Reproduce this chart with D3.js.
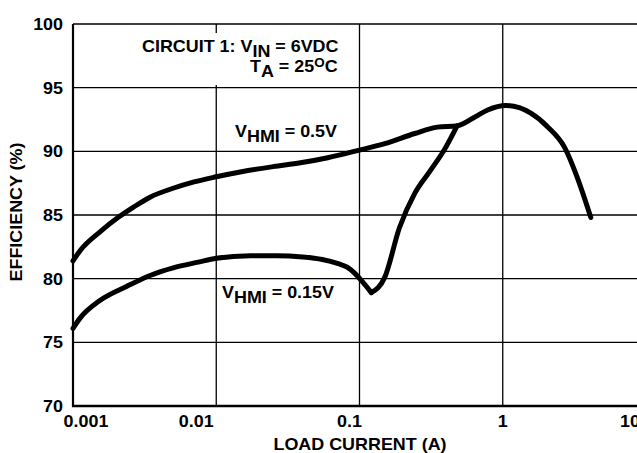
<!DOCTYPE html>
<html>
<head>
<meta charset="utf-8">
<script src="https://cdn.jsdelivr.net/npm/d3@7"></script>
<style>
  body { margin: 0; background: #fff; }
  text { font-family: "Liberation Sans", Arial, sans-serif; font-weight: bold; fill: #000; white-space: pre; }
</style>
</head>
<body>
<div id="chart"></div>
<script>
// efficiency vs load current, two V_HMI settings
var xTicks = [0.001, 0.01, 0.1, 1, 10];
var xTickLabels = ["0.001", "0.01", "0.1", "1", "10"];
var yTicks = [70, 75, 80, 85, 90, 95, 100];

var currentHi = [0.001, 0.00112, 0.00155, 0.00206, 0.00263, 0.00345, 0.005, 0.007, 0.01, 0.015, 0.025, 0.0387, 0.06, 0.1, 0.15, 0.243, 0.35, 0.48, 0.64, 0.785, 1.05, 1.57, 2.07, 2.69, 3.3, 4.12];
var effHi = [81.4, 82.2, 83.7, 84.8, 85.6, 86.4, 87.1, 87.6, 88.0, 88.4, 88.8, 89.1, 89.5, 90.1, 90.6, 91.4, 91.9, 92.0, 92.7, 93.25, 93.6, 93.0, 91.9, 90.35, 88.0, 84.8];

var currentLo = [0.001, 0.00112, 0.00155, 0.00238, 0.00345, 0.005, 0.0075, 0.01, 0.0173, 0.0267, 0.04, 0.055, 0.07, 0.082, 0.092, 0.104, 0.121, 0.15, 0.19, 0.243, 0.313, 0.39, 0.48];
var effLo = [76.1, 76.9, 78.3, 79.4, 80.25, 80.85, 81.3, 81.6, 81.8, 81.8, 81.7, 81.5, 81.2, 80.9, 80.45, 79.8, 78.9, 80.1, 84.0, 86.7, 88.5, 90.1, 92.0];
var notch = 0.121; // the low curve has a sharp corner here

var W = 637, H = 453;
var SX = 1.12; // type in the original is a bit wide
var margin = { top: 24, left: 73 };
var plotW = 573, plotH = 382;

var svg = d3.select("#chart").append("svg")
    .attr("width", W)
    .attr("height", H);

var g = svg.append("g").attr("transform", "translate(" + margin.left + "," + margin.top + ")");

var x = d3.scaleLog().domain([0.001, 10]).range([0, plotW]);
var y = d3.scaleLinear().domain([70, 100]).range([plotH, 0]);

// grid
g.selectAll(".hgrid").data(yTicks.slice(1)).enter().append("line")
    .attr("class", "hgrid")
    .attr("x1", 0).attr("x2", plotW)
    .attr("y1", function (d) { return y(d); })
    .attr("y2", function (d) { return y(d); })
    .attr("stroke", "#000").attr("stroke-width", 1.3);

g.selectAll(".vgrid").data(xTicks.slice(1)).enter().append("line")
    .attr("class", "vgrid")
    .attr("x1", function (d) { return x(d); })
    .attr("x2", function (d) { return x(d); })
    .attr("y1", 0).attr("y2", plotH)
    .attr("stroke", "#000").attr("stroke-width", 1.3);

// white box behind the conditions note
g.append("rect")
    .attr("x", 65).attr("y", 9)
    .attr("width", 215).attr("height", 52)
    .attr("fill", "#fff");

// axes
g.append("line").attr("x1", 0).attr("x2", 0).attr("y1", 0).attr("y2", plotH + 1)
    .attr("stroke", "#000").attr("stroke-width", 2.2);
g.append("line").attr("x1", -1).attr("x2", plotW).attr("y1", plotH).attr("y2", plotH)
    .attr("stroke", "#000").attr("stroke-width", 2.6);

function label(parent, px, py, anchor, parts, rot) {
    var t = parent.append("text")
        .attr("text-anchor", anchor)
        .attr("font-size", 16)
        .attr("transform", "translate(" + px + "," + py + ")" + (rot ? " rotate(" + rot + ")" : "") + " scale(" + SX + ",1)");
    var cur = 0;
    parts.forEach(function (p) {
        var shift = p.sub ? 5 : (p.sup ? -5 : 0);
        t.append("tspan")
            .attr("dy", shift - cur)
            .attr("font-size", p.sup ? 12 : 16)
            .text(p.t);
        cur = shift;
    });
    return t;
}

// tick labels
var xLabelDx = [13, -20, -10, 0, -16];
xTicks.forEach(function (d, i) {
    label(g, x(d) + xLabelDx[i], plotH + 21, "middle", [{ t: xTickLabels[i] }]);
});
yTicks.forEach(function (d) {
    label(g, -10, y(d) + 6, "end", [{ t: String(d) }]);
});

// axis titles
label(svg, 360, 450, "middle", [{ t: "LOAD CURRENT (A)" }]);
label(svg, 22, 212, "middle", [{ t: "EFFICIENCY (%)" }], -90);

// curves
var line = d3.line()
    .x(function (d) { return x(d[0]); })
    .y(function (d) { return y(d[1]); })
    .curve(d3.curveMonotoneX);

var hi = d3.zip(currentHi, effHi);
var lo = d3.zip(currentLo, effLo);
// split the low curve at the notch so the corner stays sharp
var pieces = [
    hi,
    lo.filter(function (d) { return d[0] <= notch; }),
    lo.filter(function (d) { return d[0] >= notch; })
];

g.selectAll(".curve").data(pieces).enter().append("path")
    .attr("class", "curve")
    .attr("d", line)
    .attr("fill", "none")
    .attr("stroke", "#000")
    .attr("stroke-width", 5)
    .attr("stroke-linejoin", "round")
    .attr("stroke-linecap", "round");

// annotations
label(svg, 142, 51.5, "start", [{ t: "CIRCUIT 1: V" }, { t: "IN", sub: true }, { t: " = 6VDC" }]);
label(svg, 250, 71.5, "start", [{ t: "T" }, { t: "A", sub: true }, { t: " = 25" }, { t: "O", sup: true }, { t: "C" }]);
label(svg, 235, 136.5, "start", [{ t: "V" }, { t: "HMI", sub: true }, { t: " = 0.5V" }]);
label(svg, 222, 298, "start", [{ t: "V" }, { t: "HMI", sub: true }, { t: " = 0.15V" }]);
</script>
</body>
</html>
